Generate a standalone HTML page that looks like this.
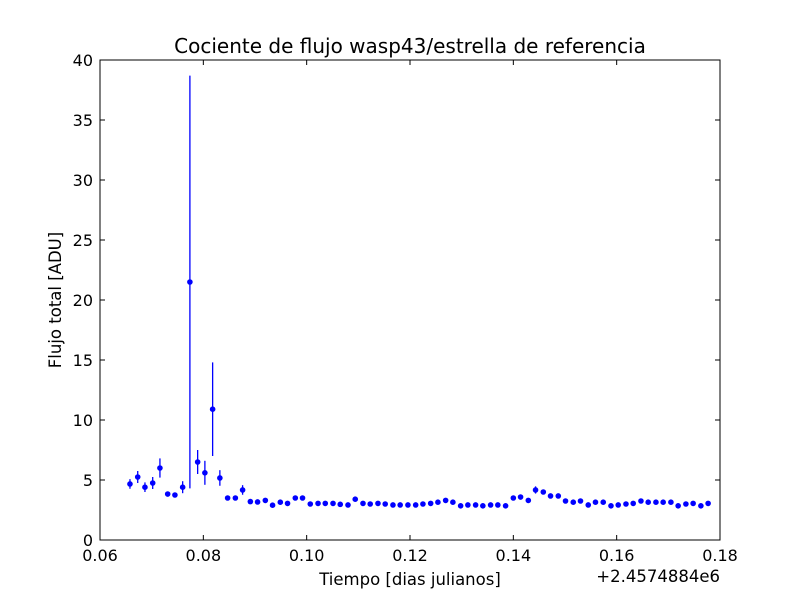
<!DOCTYPE html>
<html><head><meta charset="utf-8"><style>
body{margin:0;background:#fff;}
svg text{font-family:"DejaVu Sans","Liberation Sans",sans-serif;fill:#000;}
</style></head><body>
<svg id="chart" width="800" height="600" xmlns="http://www.w3.org/2000/svg">
<rect width="800" height="600" fill="#fff"/>
<text x="410" y="53" font-size="20" text-anchor="middle">Cociente de flujo wasp43/estrella de referencia</text>
<g id="grid"></g>
<g id="marks"></g>
<rect x="100" y="60" width="620" height="480" fill="none" stroke="#000" stroke-width="1"/>
<text x="410" y="585" font-size="16.5" text-anchor="middle">Tiempo [dias julianos]</text>
<text x="720" y="582" font-size="16.5" text-anchor="end">+2.4574884e6</text>
<text transform="translate(61,300) rotate(-90)" font-size="16.5" text-anchor="middle">Flujo total [ADU]</text>
</svg>
<script>
const times=[0.0658,0.0673,0.0687,0.0702,0.0716,0.0731,0.0745,0.0760,0.0774,0.0789,0.0803,0.0818,0.0832,0.0847,0.0862,0.0876,0.0891,0.0905,0.0920,0.0934,0.0949,0.0963,0.0978,0.0992,0.1007,0.1022,0.1036,0.1051,0.1065,0.1080,0.1094,0.1109,0.1123,0.1138,0.1152,0.1167,0.1181,0.1196,0.1211,0.1225,0.1240,0.1254,0.1269,0.1283,0.1298,0.1312,0.1327,0.1341,0.1356,0.1370,0.1385,0.1400,0.1414,0.1429,0.1443,0.1458,0.1472,0.1487,0.1501,0.1516,0.1530,0.1545,0.1559,0.1574,0.1589,0.1603,0.1618,0.1632,0.1647,0.1661,0.1676,0.1690,0.1705,0.1719,0.1734,0.1748,0.1763,0.1777];
const flux=[4.67,5.25,4.4,4.75,6.0,3.83,3.75,4.4,21.5,6.5,5.6,10.9,5.17,3.5,3.5,4.17,3.2,3.17,3.3,2.9,3.15,3.05,3.5,3.5,3.0,3.05,3.05,3.05,2.97,2.92,3.4,3.05,3.0,3.05,3.0,2.92,2.92,2.92,2.92,3.0,3.05,3.15,3.3,3.15,2.85,2.92,2.92,2.85,2.92,2.92,2.85,3.5,3.58,3.3,4.17,4.0,3.67,3.67,3.25,3.15,3.25,2.92,3.15,3.15,2.85,2.92,3.0,3.05,3.25,3.15,3.15,3.15,3.15,2.85,3.0,3.05,2.85,3.05];
const fluxErr=[0.4,0.5,0.4,0.5,0.8,0.15,0.15,0.5,17.2,1.0,1.0,3.9,0.65,0.15,0.15,0.4,
0.1,0.1,0.1,0.1,0.1,0.1,0.1,0.1,0.1,0.1,0.1,0.1,0.1,0.1,0.1,0.1,0.1,0.1,0.1,0.1,0.1,0.1,0.1,0.1,0.1,0.1,0.1,0.1,0.1,0.1,0.1,0.1,0.1,0.1,0.1,0.1,0.1,0.1,
0.3,0.2,
0.1,0.1,0.1,0.1,0.1,0.1,0.1,0.1,0.1,0.1,0.1,0.1,0.1,0.1,0.1,0.1,0.1,0.1,0.1,0.1,0.1,0.1];
const xTicks=[0.06,0.08,0.10,0.12,0.14,0.16,0.18];
const xTickLabels=["0.06","0.08","0.10","0.12","0.14","0.16","0.18"];
const yTicks=[0,5,10,15,20,25,30,35,40];
const yTickLabels=["0","5","10","15","20","25","30","35","40"];
const X0=100,X1=720,Y0=540,Y1=60;
const xS=v=>X0+(v-0.06)/0.12*(X1-X0);
const yS=v=>Y0-v/40*(Y0-Y1);
const NS="http://www.w3.org/2000/svg";
const grid=document.getElementById('grid'),marks=document.getElementById('marks');
function mk(tag,attrs,parent){const e=document.createElementNS(NS,tag);for(const k in attrs)e.setAttribute(k,attrs[k]);parent.appendChild(e);return e;}
xTicks.forEach((t,i)=>{const x=xS(t);
 const a=mk('line',{x1:x,x2:x,y1:Y0,y2:Y0-5,stroke:'#000'},grid);
 
 
 mk('line',{x1:x,x2:x,y1:Y1,y2:Y1+5,stroke:'#000'},grid);
 const tx=mk('text',{x:x,y:Y0+21,'font-size':16,'text-anchor':'middle'},grid);tx.textContent=xTickLabels[i];
 
 
});
yTicks.forEach((t,i)=>{const y=yS(t);
 const a=mk('line',{x1:X0,x2:X0+5,y1:y,y2:y,stroke:'#000'},grid);
 
 
 mk('line',{x1:X1,x2:X1-5,y1:y,y2:y,stroke:'#000'},grid);
 const tx=mk('text',{x:X0-7,y:y+6,'font-size':16,'text-anchor':'end'},grid);tx.textContent=yTickLabels[i];
 
 
});
const n=Math.min(times.length,flux.length);
for(let i=0;i<n;i++){const x=xS(times[i]),y=yS(flux[i]),er=fluxErr[i]||0;
 const e=mk('line',{x1:x,x2:x,y1:yS(flux[i]+er),y2:yS(flux[i]-er),stroke:'#0000ff','stroke-width':1.3},marks);
 
 
 const c=mk('circle',{cx:x,cy:y,r:2.8,fill:'#0000ff'},marks);
 
 
}
</script>
</body></html>
